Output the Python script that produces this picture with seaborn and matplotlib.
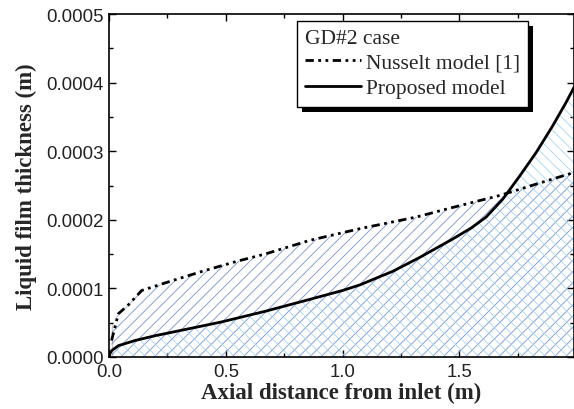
import numpy as np
import pandas as pd
import seaborn as sns
import matplotlib
matplotlib.use("Agg")
import matplotlib.pyplot as plt
import matplotlib.patheffects as pe
from matplotlib.ticker import MultipleLocator, FormatStrFormatter

# Data
nusselt_x = [0.011, 0.011, 0.04, 0.083, 0.14, 0.268, 0.41, 0.553, 0.667, 0.859, 1.073,
             1.315, 1.471, 1.678, 1.828, 1.99]
nusselt_y = [0.0, 0.000048, 0.000063, 0.000076, 0.000097, 0.000111, 0.000126, 0.000140,
             0.000150, 0.000170, 0.000187, 0.000204, 0.000218, 0.000236, 0.000252, 0.000269]
proposed_x = [0.0, 0.004, 0.011, 0.04, 0.111, 0.197, 0.339, 0.48, 0.667, 0.859, 1.0, 1.073,
              1.215, 1.329, 1.471, 1.55, 1.614, 1.685, 1.756, 1.828, 1.899, 1.956, 1.99]
proposed_y = [0.0, 0.000005, 0.0000092, 0.0000165, 0.000024, 0.000031, 0.000041, 0.000051,
              0.0000665, 0.000084, 0.000097, 0.000105, 0.000125, 0.000145, 0.000172,
              0.000188, 0.000204, 0.000230, 0.000263, 0.000298, 0.000337, 0.000371, 0.000393]

sns.set_style("ticks")
plt.rcParams['hatch.linewidth'] = 0.6

fig = plt.figure(figsize=(5.74, 4.10), dpi=100)
ax = fig.add_axes([109/574, 1 - 358/410, (573.5-109)/574, (358-15)/410])

dfn = pd.DataFrame({"x": nusselt_x, "y": nusselt_y})
dfp = pd.DataFrame({"x": proposed_x, "y": proposed_y})

ax.fill_between(dfn.x, dfn.y, 0, facecolor='none', edgecolor='#7b92cc', hatch='///', lw=0)
ax.fill_between(dfp.x, dfp.y, 0, facecolor='none', edgecolor='#a6d5ee', hatch='\\\\\\', lw=0)

sns.lineplot(data=dfn, x="x", y="y", ax=ax, color='black', lw=2.0,
             linestyle=(0, (3, 1.6, 1, 1.6, 1, 1.6)), label='Nusselt model [1]', sort=False)
sns.lineplot(data=dfp, x="x", y="y", ax=ax, color='black', lw=2.0,
             label='Proposed model', sort=False)

ax.set_xlim(0, 1.988)
ax.set_ylim(0, 0.0005)
ax.xaxis.set_major_locator(MultipleLocator(0.5))
ax.xaxis.set_minor_locator(MultipleLocator(0.25))
ax.yaxis.set_major_locator(MultipleLocator(0.0001))
ax.yaxis.set_minor_locator(MultipleLocator(0.00005))
ax.xaxis.set_major_formatter(FormatStrFormatter('%.1f'))
ax.yaxis.set_major_formatter(FormatStrFormatter('%.4f'))
ax.tick_params(which='both', direction='in', top=True, right=True, width=1, color='black')
ax.tick_params(which='major', length=5, labelsize=13.4, labelcolor='#222222', pad=4)
ax.tick_params(which='minor', length=3)
for lab in ax.get_xticklabels() + ax.get_yticklabels():
    lab.set_fontfamily('Liberation Sans')
for s in ax.spines.values():
    s.set_linewidth(1.2)
    s.set_color('black')

ax.set_xlabel('Axial distance from inlet (m)', fontfamily='Liberation Serif',
              fontweight='bold', fontsize=16.5, labelpad=2)
ax.set_ylabel('Liquid film thickness (m)', fontfamily='Liberation Serif',
              fontweight='bold', fontsize=16.5, labelpad=6)

leg = ax.legend(title='GD#2 case', loc='upper right', bbox_to_anchor=(0.903, 0.98),
                prop={'family': 'Liberation Serif', 'size': 15.5},
                title_fontproperties={'family': 'Liberation Serif', 'size': 15.5},
                frameon=True, fancybox=False, shadow=False,
                handlelength=2.6, handletextpad=0.2, borderpad=0.4, labelspacing=0.25,
                borderaxespad=0)
leg._legend_box.align = 'left'
leg._legend_box.sep = 3
frame = leg.get_frame()
frame.set_edgecolor('black')
frame.set_linewidth(1.0)
frame.set_alpha(1)
frame.set_path_effects([pe.SimplePatchShadow(offset=(3.5, -3.5), shadow_rgbFace='black', alpha=1),
                        pe.Normal()])

fig.savefig('out.png', dpi=100)
